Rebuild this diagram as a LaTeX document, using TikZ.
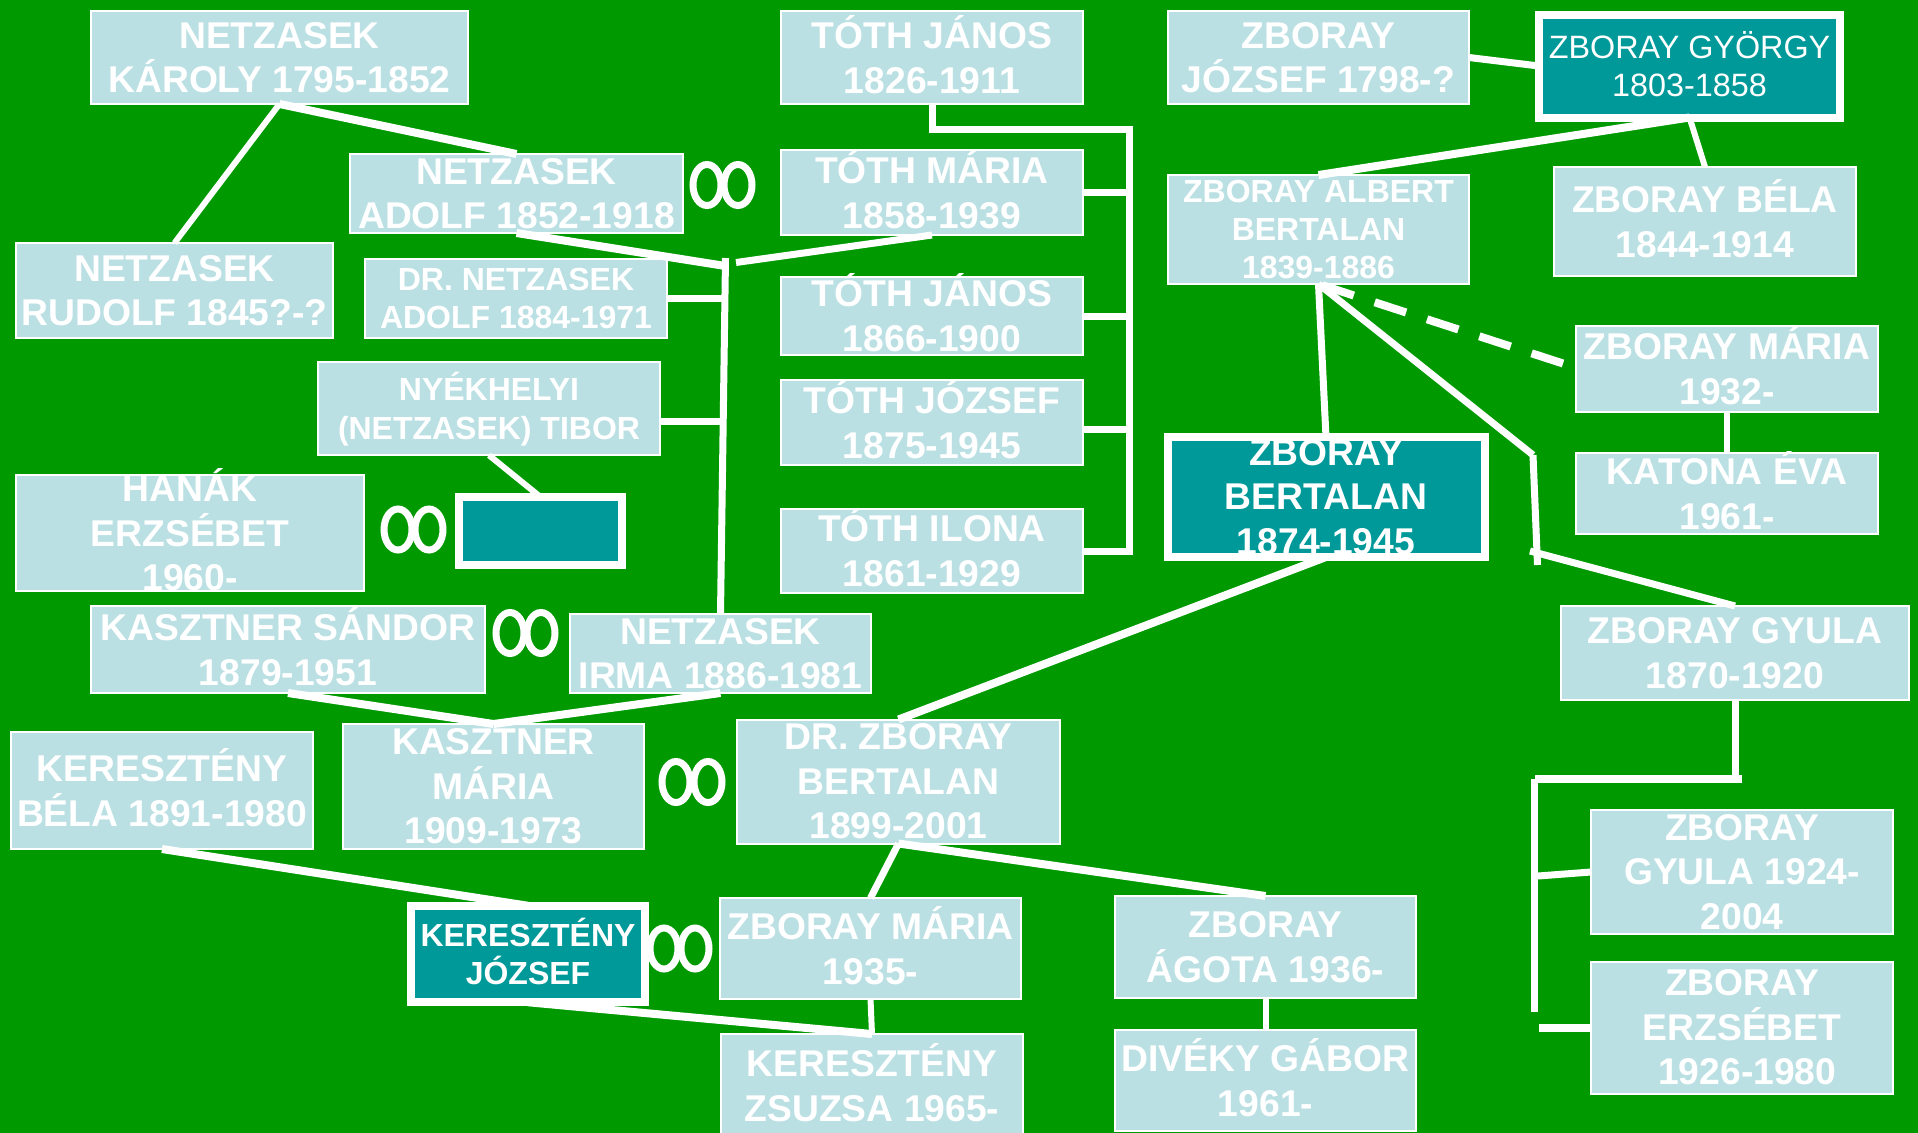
\documentclass[tikz,border=0pt]{standalone}
\usepackage{fontspec}
\setmainfont{Liberation Sans}
\usetikzlibrary{shapes.geometric}
\definecolor{bggreen}{HTML}{009900}
\definecolor{paleblue}{HTML}{BBE0E3}
\definecolor{tealbox}{HTML}{009999}
\newlength{\pxu}
\setlength{\pxu}{0.02cm}
\newcommand{\capline}[1]{\raisebox{0pt}[.72em][0pt]{#1}}

\begin{document}
\begin{tikzpicture}[x=0.02cm,y=-0.02cm,
        dims/.style 2 args={minimum width=#1\pxu-2\pxu,minimum height=#2\pxu-2\pxu},
        person/.style={rectangle,draw=white,line width=2\pxu,fill=paleblue,text=white,inner sep=0pt,outer sep=0pt,align=center,font=\bfseries\fontsize{21.2}{25.4}\selectfont},
        small/.style={font=\bfseries\fontsize{18.2}{21.8}\selectfont},
        ancestor/.style={person,fill=tealbox,line width=8\pxu},
        ring/.style={ellipse,draw=white,line width=7\pxu,inner sep=0pt,outer sep=0pt,minimum width=28\pxu,minimum height=41\pxu},
        link/.style={draw=white,line width=7\pxu},
        thinlink/.style={draw=white,line width=6\pxu},
        widelink/.style={draw=white,line width=8\pxu}]
        \fill[bggreen] (0,0) rectangle (1918,1133);
        \useasboundingbox (0,0) rectangle (1918,1133);
        % Netzasek side
        \node[person,dims={379}{95}] at (279.5,57.5) (karoly) {NETZASEK\\KÁROLY 1795-1852};
        \node[person,dims={334.5}{81}] at (516.5,193.5) (adolf) {NETZASEK\\ADOLF 1852-1918};
        \node[person,dims={319}{97}] at (174.5,290.5) (rudolf) {NETZASEK\\RUDOLF 1845?-?};
        \node[person,small,dims={304}{81}] at (516,298.5) (dradolf) {DR. NETZASEK\\ADOLF 1884-1971};
        \node[person,small,dims={344}{95.5}] at (489,408.5) (tibor) {\capline{NYÉKHELYI}\\\capline{(NETZASEK) TIBOR}};
        \node[person,dims={350}{118}] at (190,533) (hanak) {\capline{HANÁK}\\ERZSÉBET\\1960-};
        \node[ancestor,dims={165}{70}] at (540.5,531) (blank) {};
        \node[person,dims={395.5}{89}] at (288,649.5) (sandor) {\capline{KASZTNER SÁNDOR}\\1879-1951};
        \node[person,dims={303}{81}] at (720.5,653.5) (irma) {NETZASEK\\IRMA 1886-1981};
        \node[person,dims={303}{127}] at (493.5,786.5) (kmaria) {KASZTNER\\MÁRIA\\1909-1973};
        \node[person,dims={303.5}{119}] at (162,790.5) (kbela) {\capline{KERESZTÉNY}\\BÉLA 1891-1980};
        % Toth side
        \node[person,dims={304}{95}] at (932,57.5) (janos) {\capline{TÓTH JÁNOS}\\1826-1911};
        \node[person,dims={304}{87}] at (932,192.5) (tmaria) {\capline{TÓTH MÁRIA}\\1858-1939};
        \node[person,dims={304}{80}] at (932,316) (tjanos) {\capline{TÓTH JÁNOS}\\1866-1900};
        \node[person,dims={304}{87}] at (932,422.5) (jozsef) {\capline{TÓTH JÓZSEF}\\1875-1945};
        \node[person,dims={304}{86.5}] at (932,551) (ilona) {\capline{TÓTH ILONA}\\1861-1929};
        % Zboray side
        \node[person,dims={303}{95}] at (1318.5,57.5) (zjozsef) {ZBORAY\\JÓZSEF 1798-?};
        \node[ancestor,dims={303}{105},font=\fontsize{18.4}{22}\selectfont] at (1689.5,66) (gyorgy) {\capline{ZBORAY GYÖRGY}\\1803-1858};
        \node[person,small,dims={303}{111}] at (1318.5,229.5) (albert) {ZBORAY ALBERT\\BERTALAN\\1839-1886};
        \node[person,dims={303.5}{111}] at (1705,221.5) (bela) {\capline{ZBORAY BÉLA}\\1844-1914};
        \node[person,dims={304}{88}] at (1727,369) (zmaria) {\capline{ZBORAY MÁRIA}\\1932-};
        \node[person,dims={304}{83.5}] at (1727,493.5) (katona) {\capline{KATONA ÉVA}\\1961-};
        \node[ancestor,dims={319}{122}] at (1326,497) (bertalan) {ZBORAY\\BERTALAN\\1874-1945};
        \node[person,dims={350}{96}] at (1735,653) (gyula) {ZBORAY GYULA\\1870-1920};
        \node[person,dims={325}{126}] at (898.5,781.5) (drzboray) {DR. ZBORAY\\BERTALAN\\1899-2001};
        \node[person,dims={304}{126}] at (1742,872) (ifjgyula) {ZBORAY\\GYULA 1924-\\2004};
        \node[person,dims={304}{134}] at (1742,1027.5) (erzsebet) {ZBORAY\\ERZSÉBET\\\hspace*{.28em}1926-1980};
        \node[ancestor,small,dims={236}{98.5}] at (528,954) (kjozsef) {\capline{KERESZTÉNY}\\JÓZSEF};
        \node[person,dims={303}{103}] at (870.5,948.5) (mmaria) {\capline{ZBORAY MÁRIA}\\1935-};
        \node[person,dims={303}{104}] at (1265.5,947) (agota) {ZBORAY\\ÁGOTA 1936-};
        \node[person,dims={303}{103}] at (1265.5,1080.5) (diveky) {\capline{DIVÉKY GÁBOR}\\1961-};
        \node[person,dims={304}{106}] at (872,1086) (zsuzsa) {\capline{KERESZTÉNY}\\ZSUZSA 1965-};
        % marriage rings
        \node[ring] at (707,185) (ra1) {};
        \node[ring] at (738,185) (ra2) {};
        \node[ring] at (398,529.5) (rb1) {};
        \node[ring] at (429,529.5) (rb2) {};
        \node[ring] at (510,633) (rc1) {};
        \node[ring] at (541,633) (rc2) {};
        \node[ring] at (676,782) (rd1) {};
        \node[ring] at (708,782) (rd2) {};
        \node[ring] at (664,948.5) (re1) {};
        \node[ring] at (695,948.5) (re2) {};
        % free ends
        \coordinate (famtop) at (725.5,258);
        \coordinate (famleft) at (725.5,266);
        \coordinate (famright) at (736,262.5);
        \coordinate (tibormid) at (720.5,421);
        \coordinate (dradolfmid) at (722,298.5);
        \coordinate (tothtop) at (932,129);
        \coordinate (tothcorner) at (1129,129);
        \coordinate (tothend) at (1129,551);
        \coordinate (jozsefmid) at (1129,429);
        \coordinate (kneeup) at (1533,455);
        \coordinate (kneedown) at (1537.5,565);
        \coordinate (kneeout) at (1530,551);
        \coordinate (dashend) at (1563,363.5);
        \coordinate (gyulabar) at (1735,775);
        \coordinate (barleft) at (1535,779);
        \coordinate (barright) at (1742,779);
        \coordinate (railtop) at (1534.6,779);
        \coordinate (railend) at (1534.6,1012);
        \coordinate (railmid) at (1538,876);
        \coordinate (erzsfree) at (1539,1027.5);
        % connectors
        \draw[thinlink] (karoly.south) -- (rudolf.north);
        \draw[widelink] (karoly.south) -- (adolf.north);
        \draw[widelink] (adolf.south) -- (famleft);
        \draw[link] (famright) -- (tmaria.south);
        \draw[link] (famtop) -- (irma.north);
        \draw[link] (dradolf.east) -- (dradolfmid);
        \draw[link] (tibor.east |- tibormid) -- (tibormid);
        \draw[thinlink] (tibor.south) -- (blank.north);
        \draw[link] (janos.south) -- (tothtop) -- (tothcorner) -- (tothend) -- (ilona.east);
        \draw[link] (tmaria.east) -- (tmaria.east -| tothcorner);
        \draw[link] (tjanos.east) -- (tjanos.east -| tothcorner);
        \draw[link] (jozsef.east |- jozsefmid) -- (jozsefmid);
        \draw[link] (zjozsef.east) -- (gyorgy.west);
        \draw[widelink] (gyorgy.south) -- (albert.north);
        \draw[thinlink] (gyorgy.south) -- (bela.north);
        \draw[link] (albert.south) -- (bertalan.north);
        \draw[link] (albert.south) -- (kneeup);
        \draw[link] (kneeup) -- (kneedown);
        \draw[link] (kneeout) -- (gyula.north);
        \draw[widelink,dash pattern=on 33\pxu off 22\pxu] (dashend) -- (albert.south);
        \draw[thinlink] (zmaria.south) -- (katona.north);
        \draw[widelink] (bertalan.south) -- (drzboray.north);
        \draw[widelink] (sandor.south) -- (kmaria.north);
        \draw[widelink] (irma.south) -- (kmaria.north);
        \draw[widelink] (kbela.south) -- (kjozsef.north);
        \draw[widelink] (kjozsef.south) -- (zsuzsa.north);
        \draw[thinlink] (mmaria.south) -- (zsuzsa.north);
        \draw[link] (drzboray.south) -- (mmaria.north);
        \draw[widelink] (drzboray.south) -- (agota.north);
        \draw[thinlink] (agota.south) -- (diveky.north);
        \draw[link] (gyula.south) -- (gyulabar);
        \draw[widelink] (barleft) -- (barright);
        \draw[link] (railtop) -- (railend);
        \draw[link] (railmid) -- (ifjgyula.west);
        \draw[widelink] (erzsfree) -- (erzsebet.west);
      \end{tikzpicture}
\end{document}
